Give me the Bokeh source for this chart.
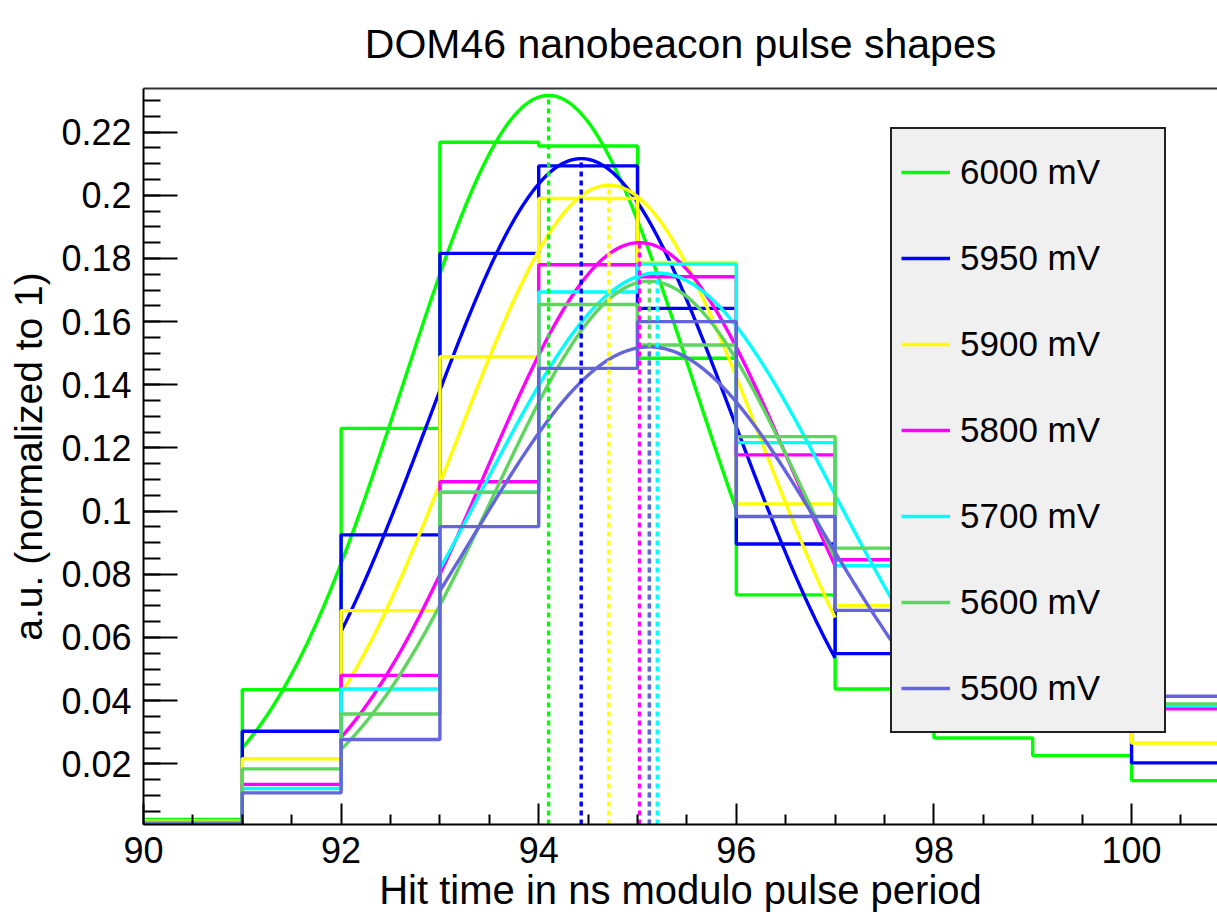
import numpy as np
from bokeh.plotting import figure
from bokeh.models import (Range1d, FixedTicker, CustomJSTickFormatter, Legend,
                          LegendItem, ColumnDataSource, LinearAxis)
from bokeh.embed import file_html
from bokeh.resources import INLINE

# ---------------- data ----------------
bin_edges = [90, 91, 92, 93, 94, 95, 96, 97, 98, 99, 100, 101]
series_labels = ["6000 mV", "5950 mV", "5900 mV", "5800 mV", "5700 mV", "5600 mV", "5500 mV"]
series_colors = ["#00ff00", "#0000ff", "#ffff00", "#ff00ff", "#00ffff", "#5cd65c", "#6464dc"]

h6000 = [0.0024, 0.0435, 0.1262, 0.2168, 0.2156, 0.1484, 0.0735, 0.0437, 0.0282, 0.0226, 0.0147]
h5950 = [0.0015, 0.0303, 0.0925, 0.1816, 0.2093, 0.1642, 0.0896, 0.0549, 0.0420, 0.0340, 0.0203]
h5900 = [0.0020, 0.0216, 0.0685, 0.1489, 0.1990, 0.1787, 0.1023, 0.0701, 0.0520, 0.0380, 0.0266]
h5800 = [0.0012, 0.0135, 0.0480, 0.1093, 0.1780, 0.1742, 0.1178, 0.0846, 0.0630, 0.0470, 0.0374]
h5700 = [0.0012, 0.0122, 0.0437, 0.1060, 0.1694, 0.1782, 0.1217, 0.0827, 0.0620, 0.0470, 0.0385]
h5600 = [0.0015, 0.0184, 0.0358, 0.1060, 0.1654, 0.1526, 0.1236, 0.0883, 0.0660, 0.0500, 0.0390]
h5500 = [0.0010, 0.0108, 0.0277, 0.0951, 0.1452, 0.1600, 0.0983, 0.0686, 0.0550, 0.0470, 0.0414]
histograms = [h6000, h5950, h5900, h5800, h5700, h5600, h5500]

# Gaussian fit parameters
fit_amplitude = [0.2316, 0.2116, 0.2032, 0.1850, 0.1754, 0.1728, 0.1520]
fit_mean      = [94.10, 94.43, 94.71, 95.02, 95.20, 95.12, 95.12]
fit_sigma     = [1.47, 1.55, 1.53, 1.56, 1.78, 1.58, 1.78]
fit_low       = [91, 92, 92, 92, 93, 92, 93]
fit_high      = [96, 97, 97, 97, 98, 97, 98]

x_major_ticks = [90, 92, 94, 96, 98, 100]
x_minor_ticks = [90.5, 91, 91.5, 92.5, 93, 93.5, 94.5, 95, 95.5, 96.5, 97, 97.5,
                 98.5, 99, 99.5, 100.5]
y_major_ticks = [0.02, 0.04, 0.06, 0.08, 0.10, 0.12, 0.14, 0.16, 0.18, 0.20, 0.22]
y_minor_ticks = [round(0.005 * i, 3) for i in range(1, 47)]

title_text = "DOM46 nanobeacon pulse shapes"

Y_MIN, Y_MAX = 0.0008, 0.2338
FONT = "Liberation Sans"
LW = 3.4

p = figure(width=1217, height=917,
           x_range=Range1d(90, 100.87), y_range=Range1d(Y_MIN, Y_MAX),
           output_backend="svg", toolbar_location=None,
           min_border_left=143, min_border_right=0,
           min_border_top=88, min_border_bottom=93)
p.grid.visible = False
p.outline_line_color = None
p.background_fill_color = "white"
p.border_fill_color = "white"

p.title.text = title_text
p.title.align = "center"
p.title.vertical_align = "top"
p.title.text_font = FONT
p.title.text_font_size = "41px"
p.title.text_font_style = "normal"
p.title.text_color = "black"
p.title.standoff = 40

xa = p.below[0]
xa.ticker = FixedTicker(ticks=x_major_ticks, minor_ticks=x_minor_ticks)
xa.major_tick_in = 21
xa.major_tick_out = 0
xa.minor_tick_in = 10
xa.minor_tick_out = 0
xa.major_tick_line_width = 2
xa.minor_tick_line_width = 2
xa.axis_line_width = 2
xa.major_label_text_font = FONT
xa.major_label_text_font_size = "36px"
xa.major_label_text_color = "black"
xa.major_label_standoff = 12
xa.axis_label = "Hit time in ns modulo pulse period"
xa.axis_label_text_font = FONT
xa.axis_label_text_font_size = "40px"
xa.axis_label_text_font_style = "normal"
xa.axis_label_text_color = "black"
xa.axis_label_standoff = 2

ya = p.left[0]
ya.ticker = FixedTicker(ticks=y_major_ticks, minor_ticks=y_minor_ticks)
ya.formatter = CustomJSTickFormatter(code="return (Math.round(tick*100)/100).toString();")
ya.major_tick_in = 34
ya.major_tick_out = 0
ya.minor_tick_in = 17
ya.minor_tick_out = 0
ya.major_tick_line_width = 2
ya.minor_tick_line_width = 2
ya.axis_line_width = 2
ya.major_label_text_font = FONT
ya.major_label_text_font_size = "36px"
ya.major_label_text_color = "black"
ya.major_label_standoff = 12
ya.axis_label = "a.u. (normalized to 1)"
ya.axis_label_text_font = FONT
ya.axis_label_text_font_size = "39px"
ya.axis_label_text_font_style = "normal"
ya.axis_label_text_color = "black"
ya.axis_label_standoff = 8

# top frame line (frame box edge), no ticks or labels
top_axis = LinearAxis(ticker=FixedTicker(ticks=[]), major_tick_line_color=None,
                      minor_tick_line_color=None, major_label_text_font_size="0px",
                      axis_line_width=2, axis_line_color="#333333",
                      major_label_standoff=0, major_tick_out=0, minor_tick_out=0)
p.add_layout(top_axis, "above")

legend_items = []
for i, vals in enumerate(histograms):
    col = series_colors[i]
    p.step(x=bin_edges, y=vals + [vals[-1]], mode="after", line_color=col, line_width=LW)
    xs = np.linspace(fit_low[i], fit_high[i], 300)
    ys = fit_amplitude[i] * np.exp(-0.5 * ((xs - fit_mean[i]) / fit_sigma[i]) ** 2)
    r = p.line(xs, ys, line_color=col, line_width=LW)
    legend_items.append(LegendItem(label=series_labels[i], renderers=[r]))

seg_src = ColumnDataSource(dict(x=fit_mean, y0=[Y_MIN] * len(fit_mean), y1=fit_amplitude,
                                c=series_colors))
p.segment(x0="x", y0="y0", x1="x", y1="y1", source=seg_src, line_color="c",
          line_width=LW, line_dash="5 4")

legend = Legend(items=legend_items, location=(747, 91))
legend.background_fill_color = "#f0f0f0"
legend.background_fill_alpha = 1.0
legend.border_line_color = "#222222"
legend.border_line_alpha = 1.0
legend.border_line_width = 2
legend.label_text_font = FONT
legend.label_text_font_size = "35px"
legend.label_text_color = "black"
legend.glyph_width = 49
legend.glyph_height = 68
legend.label_height = 68
legend.label_width = 195
legend.label_standoff = 10
legend.spacing = 18
legend.padding = 9
legend.margin = 0
p.add_layout(legend)

open("out.html", "w").write(file_html(p, INLINE))
